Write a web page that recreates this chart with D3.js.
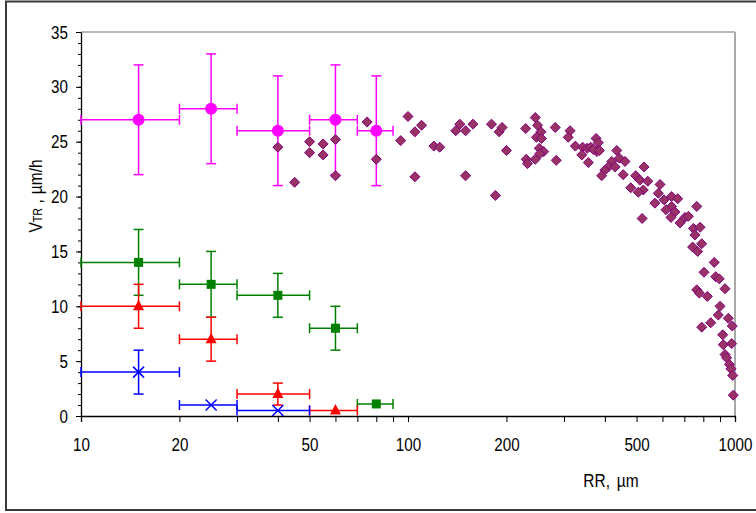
<!DOCTYPE html>
<html>
<head>
<meta charset="utf-8">
<script src="https://cdn.jsdelivr.net/npm/d3@7"></script>
<style>
  html, body { margin: 0; padding: 0; background: #fff; }
  svg { display: block; }
  text { font-family: "Liberation Sans", Arial, sans-serif; fill: #000; }
</style>
</head>
<body>
<svg id="chart" width="756" height="513"></svg>
<script>
// ---------- data ----------
const xTickValues = [10,20,30,40,50,60,70,80,90,100,200,300,400,500,600,700,800,900,1000];
const xTickLabels = [10,20,50,100,200,500,1000];
const yMajorTicks = [0,5,10,15,20,25,30,35];
const yMinorTicks = d3.range(0, 36, 1);

// magenta circles
const magX   = [15, 25, 40, 60, 80];
const magY   = [27, 28, 26, 27, 26];
const magXLo = [10, 20, 30, 50, 70];
const magXHi = [20, 30, 50, 70, 90];
const magYLo = [22, 23, 21, 22, 21];
const magYHi = [32, 33, 31, 32, 31];

// green squares
const grnX   = [15, 25, 40, 60, 80];
const grnY   = [14, 12, 11, 8, 1.1];
const grnXLo = [10, 20, 30, 50, 70];
const grnXHi = [20, 30, 50, 70, 90];
const grnYLo = [11, 9, 9, 6, null];
const grnYHi = [17, 15, 13, 10, null];

// red triangles
const redX   = [15, 25, 40, 60];
const redY   = [10, 7, 2, 0.5];
const redXLo = [10, 20, 30, 50];
const redXHi = [20, 30, 50, 70];
const redYLo = [8, 5, 1, null];
const redYHi = [12, 9, 3, null];

// blue crosses
const bluX   = [15, 25, 40];
const bluY   = [4, 1, 0.5];
const bluXLo = [10, 20, 30];
const bluXHi = [20, 30, 50];
const bluYLo = [2, null, null];
const bluYHi = [6, null, null];

// purple diamonds (RR, V)
const rrX = [40,45,50,50,55,55,60,60,75,80,95,100,105,110,105,120,125,140,144,150,158,150,
  180,190,194,200,185,229,245,249,255,247,256,252,260,253,245,230,232,284,282,313,309,325,
  342,340,356,353,362,376,382,378,369,385,435,443,461,420,410,430,400,391,455,497,527,512,
  541,524,506,480,520,590,583,569,607,640,668,640,615,655,637,679,703,720,764,746,782,754,
  791,742,769,864,804,873,895,932,764,778,823,900,889,954,981,843,791,917,977,921,932,943,
  961,972,984,988];
const rrY = [24.5,21.3,25,24,24.8,23.8,25.2,21.9,26.8,23.4,25.1,27.3,25.9,26.5,21.8,24.6,24.5,26,26.6,26,26.6,21.9,
  26.6,25.9,26.3,24.2,20.1,26.2,27.2,26.5,25.9,25.4,25.3,24.4,24.1,23.9,23.4,23.4,23,23.3,26.3,26,25.4,24.6,
  24.5,23.8,23.1,24.4,24.5,25.3,24.9,24.1,24.3,24.2,24.2,23.5,23.2,23.2,22.7,22.7,22.4,21.9,22,21.9,22.7,21.5,
  21.4,20.6,20.4,20.8,18,21.1,20.3,19.4,19.7,20,19.8,19.1,18.8,18.6,18.1,17.6,18.1,18.2,19.1,17.1,17.2,16.5,
  15.7,15.4,15,14,13.1,12.7,12.5,11.6,11.5,11.2,10.9,10,9.2,8.9,8.2,8.5,8.1,7.4,6.6,6.5,5.6,5.3,
  4.7,4.3,3.7,1.9];

// ---------- chart ----------
const svg = d3.select("#chart");
const FONT = 19, SX = 0.8;

const x = d3.scaleLog().domain([10, 1000]).range([81, 735]);
const y = d3.scaleLinear().domain([0, 35]).range([416, 32]);

// outer frame
svg.append("rect").attr("x", 6).attr("y", 1.5).attr("width", 780).attr("height", 508.5)
  .attr("fill", "none").attr("stroke", "#3a3a3a").attr("stroke-width", 2);

// plot area top/right borders
svg.append("line").attr("x1", x(10)).attr("x2", x(1000)).attr("y1", y(35)).attr("y2", y(35))
  .attr("stroke", "#a0a0a0").attr("stroke-width", 1.5);
svg.append("line").attr("x1", x(1000)).attr("x2", x(1000)).attr("y1", y(35)).attr("y2", y(0))
  .attr("stroke", "#a8a8a8").attr("stroke-width", 2);

// x axis
const gx = svg.append("g").attr("transform", `translate(0,${y(0)})`)
  .call(d3.axisBottom(x).tickValues(xTickValues).tickSize(6).tickPadding(16)
    .tickFormat(d => xTickLabels.includes(d) ? String(d) : ""));
gx.select(".domain").attr("stroke", "#000").attr("stroke-width", 1.3);
gx.selectAll(".tick line").attr("stroke", "#000").attr("stroke-width", 1);
gx.selectAll(".tick text").attr("font-size", FONT).attr("font-family", "Liberation Sans, Arial, sans-serif")
  .attr("fill", "#000").attr("transform", `scale(${SX},1)`);

// y axis minor
const gyMinor = svg.append("g").attr("transform", `translate(${x(10)},0)`)
  .call(d3.axisLeft(y).tickValues(yMinorTicks).tickSize(3).tickFormat(""));
gyMinor.select(".domain").remove();
gyMinor.selectAll(".tick line").attr("stroke", "#000");
// y axis major
const gy = svg.append("g").attr("transform", `translate(${x(10)},0)`)
  .call(d3.axisLeft(y).tickValues(yMajorTicks).tickSize(5).tickSizeOuter(0).tickPadding(8));
gy.select(".domain").attr("stroke", "#000").attr("stroke-width", 1.3);
gy.selectAll(".tick line").attr("stroke", "#000");
gy.selectAll(".tick text").attr("font-size", FONT).attr("font-family", "Liberation Sans, Arial, sans-serif")
  .attr("fill", "#000").attr("x", -13 / SX).attr("transform", `scale(${SX},1)`);

// axis titles
const xt = svg.append("g").attr("transform", "translate(611,487) scale(0.86,1)")
  .append("text").attr("text-anchor", "middle").attr("font-size", 18);
xt.append("tspan").text("RR,");
xt.append("tspan").attr("dx", 8).text("µm");

const yt = svg.append("g").attr("transform", "translate(42,196) rotate(-90) scale(0.86,1)")
  .append("text").attr("text-anchor", "middle").attr("font-size", 18);
yt.append("tspan").text("V");
yt.append("tspan").attr("font-size", 12.5).text("TR");
yt.append("tspan").text(" ,");
yt.append("tspan").attr("dx", 6).text("µm/h");

// ---------- series helper ----------
function zipSeries(X, Y, XL, XH, YL, YH) {
  return X.map((d, i) => ({ x: d, y: Y[i], xl: XL[i], xh: XH[i], yl: YL[i], yh: YH[i] }));
}
const CAP = 5;
function drawErrors(data, color) {
  const g = svg.append("g").attr("stroke", color).attr("stroke-width", 1.5).attr("fill", "none");
  data.forEach(d => {
    g.append("line").attr("x1", x(d.xl)).attr("x2", x(d.xh)).attr("y1", y(d.y)).attr("y2", y(d.y));
    g.append("line").attr("x1", x(d.xl)).attr("x2", x(d.xl)).attr("y1", y(d.y) - CAP).attr("y2", y(d.y) + CAP);
    g.append("line").attr("x1", x(d.xh)).attr("x2", x(d.xh)).attr("y1", y(d.y) - CAP).attr("y2", y(d.y) + CAP);
    if (d.yl != null) {
      g.append("line").attr("x1", x(d.x)).attr("x2", x(d.x)).attr("y1", y(d.yl)).attr("y2", y(d.yh));
      g.append("line").attr("x1", x(d.x) - CAP).attr("x2", x(d.x) + CAP).attr("y1", y(d.yl)).attr("y2", y(d.yl));
      g.append("line").attr("x1", x(d.x) - CAP).attr("x2", x(d.x) + CAP).attr("y1", y(d.yh)).attr("y2", y(d.yh));
    }
  });
  return g;
}

const grn = zipSeries(grnX, grnY, grnXLo, grnXHi, grnYLo, grnYHi);
const red = zipSeries(redX, redY, redXLo, redXHi, redYLo, redYHi);
const blu = zipSeries(bluX, bluY, bluXLo, bluXHi, bluYLo, bluYHi);
const mag = zipSeries(magX, magY, magXLo, magXHi, magYLo, magYHi);

// green
drawErrors(grn, "#008000");
svg.append("g").selectAll("rect").data(grn).join("rect")
  .attr("x", d => x(d.x) - 4.5).attr("y", d => y(d.y) - 4.5)
  .attr("width", 9).attr("height", 9).attr("fill", "#008000");

// red
drawErrors(red, "#ff0000");
svg.append("g").selectAll("path").data(red).join("path")
  .attr("d", d => `M${x(d.x)},${y(d.y) - 6.5}L${x(d.x) + 5.5},${y(d.y) + 4}L${x(d.x) - 5.5},${y(d.y) + 4}Z`)
  .attr("fill", "#ff0000");

// blue
drawErrors(blu, "#0000ff");
svg.append("g").selectAll("path").data(blu).join("path")
  .attr("d", d => `M${x(d.x) - 5.5},${y(d.y) - 5.5}L${x(d.x) + 5.5},${y(d.y) + 5.5}M${x(d.x) + 5.5},${y(d.y) - 5.5}L${x(d.x) - 5.5},${y(d.y) + 5.5}`)
  .attr("stroke", "#0000ff").attr("stroke-width", 1.5).attr("fill", "none");

// magenta
drawErrors(mag, "#ff00ff");
svg.append("g").selectAll("circle").data(mag).join("circle")
  .attr("cx", d => x(d.x)).attr("cy", d => y(d.y)).attr("r", 6).attr("fill", "#ff00ff");

// diamonds
const rr = rrX.map((d, i) => ({ x: d, y: rrY[i] }));
svg.append("g").selectAll("path").data(rr).join("path")
  .attr("d", d => { const cx = x(d.x), cy = y(d.y), r = 5;
    return `M${cx},${cy - r}L${cx + r},${cy}L${cx},${cy + r}L${cx - r},${cy}Z`; })
  .attr("fill", "#993366").attr("stroke", "#800080").attr("stroke-width", 1);
</script>
</body>
</html>
